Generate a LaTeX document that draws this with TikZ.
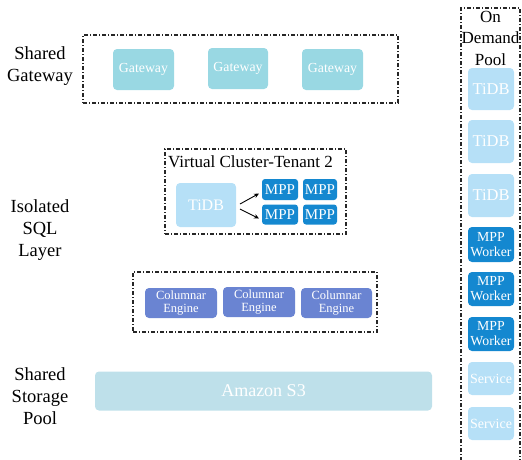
\documentclass[tikz,border=0pt]{standalone}
\usepackage{fontspec}
\setmainfont{Liberation Serif}
\usetikzlibrary{arrows.meta}
\definecolor{gwc}{HTML}{99D8E3}
\definecolor{tidbc}{HTML}{B6E0F7}
\definecolor{mppc}{HTML}{1488D0}
\definecolor{colc}{HTML}{6A84D2}
\definecolor{s3c}{HTML}{BEE0EA}
\tikzset{
  grp/.style={draw=black!85, line width=1.1pt, dash pattern=on 4pt off 2pt on 1pt off 2pt},
  blk/.style={rounded corners=4pt, text=white, inner sep=0pt, align=center},
  lbl/.style={align=center, font=\fontsize{18.5}{22}\selectfont},
  arr/.style={-{Stealth[length=5pt,width=4.5pt]}, line width=0.9pt},
}
\begin{document}
\begin{tikzpicture}[x=1pt,y=-1pt]
\useasboundingbox (0,0) rectangle (522,459);
% groups
\node[grp, minimum width=315pt, minimum height=68pt] (gwgrp) at (240.5,69) {};
\node[grp, minimum width=181pt, minimum height=85pt] (vcgrp) at (255.5,191.5) {};
\node[grp, minimum width=244pt, minimum height=60pt] (colgrp) at (255,302) {};
\begin{scope}
\clip (400,0) rectangle (522,459);
\draw[grp] (461,470) -- (461,8) -- (520,8) -- (520,470);
\end{scope}
% labels
\node[lbl] (l1) at (40,66.5) {Shared\\Gateway};
\node[lbl] (l2) at (40,230) {Isolated\\SQL\\Layer};
\node[lbl] (l3) at (40,396) {Shared\\Storage\\Pool};
\node[align=center, font=\fontsize{17}{21.5}\selectfont] (l4) at (490.5,38) {On\\Demand\\Pool};
% gateways
\node[blk, fill=gwc, minimum width=61pt, minimum height=41pt, font=\fontsize{13.8}{16}\selectfont] (g1) at (143.5,69.5) {Gateway};
\node[blk, fill=gwc, minimum width=60pt, minimum height=41pt, font=\fontsize{13.8}{16}\selectfont] (g2) at (238,68.5) {Gateway};
\node[blk, fill=gwc, minimum width=61pt, minimum height=41pt, font=\fontsize{13.8}{16}\selectfont] (g3) at (332.5,69.5) {Gateway};
% virtual cluster
\node[anchor=west, font=\fontsize{17}{19}\selectfont, inner sep=0pt] (vct) at (168,162) {Virtual Cluster-Tenant 2};
\node[blk, fill=tidbc, minimum width=60pt, minimum height=44pt, font=\fontsize{16}{18}\selectfont] (vtidb) at (206,205) {TiDB};
\node[blk, fill=mppc, minimum width=36pt, minimum height=21pt, font=\fontsize{15}{17}\selectfont, rounded corners=3pt] (m1) at (280,189.5) {MPP};
\node[blk, fill=mppc, minimum width=34pt, minimum height=21pt, font=\fontsize{15}{17}\selectfont, rounded corners=3pt] (m2) at (320,189.5) {MPP};
\node[blk, fill=mppc, minimum width=36pt, minimum height=20pt, font=\fontsize{15}{17}\selectfont, rounded corners=3pt] (m3) at (280,214.5) {MPP};
\node[blk, fill=mppc, minimum width=34pt, minimum height=20pt, font=\fontsize{15}{17}\selectfont, rounded corners=3pt] (m4) at (320,214.5) {MPP};
\coordinate (a1s) at (240,204);
\coordinate (a1e) at (259,193.5);
\coordinate (a2s) at (240,209);
\coordinate (a2e) at (259,218.5);
\draw[arr] (a1s) -- (a1e);
\draw[arr] (a2s) -- (a2e);
% columnar
\node[blk, fill=colc, minimum width=72pt, minimum height=30pt, font=\fontsize{12.5}{13}\selectfont] (c1) at (181,303) {Columnar\\Engine};
\node[blk, fill=colc, minimum width=72pt, minimum height=30pt, font=\fontsize{12.5}{13}\selectfont] (c2) at (259,302) {Columnar\\Engine};
\node[blk, fill=colc, minimum width=71pt, minimum height=30pt, font=\fontsize{12.5}{13}\selectfont] (c3) at (336.5,303) {Columnar\\Engine};
% S3
\node[blk, fill=s3c, minimum width=337pt, minimum height=39pt, font=\fontsize{18}{20}\selectfont] (s3) at (263.5,391) {Amazon S3};
% pool
\node[blk, fill=tidbc, minimum width=46pt, minimum height=42pt, font=\fontsize{16.5}{18}\selectfont] (p1) at (491,89) {TiDB};
\node[blk, fill=tidbc, minimum width=46pt, minimum height=43pt, font=\fontsize{16.5}{18}\selectfont] (p2) at (491,141.5) {TiDB};
\node[blk, fill=tidbc, minimum width=46pt, minimum height=43pt, font=\fontsize{16.5}{18}\selectfont] (p3) at (491,195.5) {TiDB};
\node[blk, fill=mppc, minimum width=46pt, minimum height=35pt, font=\fontsize{13.8}{15}\selectfont] (p4) at (491,244.5) {MPP\\Worker};
\node[blk, fill=mppc, minimum width=46pt, minimum height=34pt, font=\fontsize{13.8}{15}\selectfont] (p5) at (491,289) {MPP\\Worker};
\node[blk, fill=mppc, minimum width=46pt, minimum height=34pt, font=\fontsize{13.8}{15}\selectfont] (p6) at (491,334) {MPP\\Worker};
\node[blk, fill=tidbc, minimum width=46pt, minimum height=33pt, font=\fontsize{14}{16}\selectfont] (p7) at (491,378.5) {Service};
\node[blk, fill=tidbc, minimum width=46pt, minimum height=33pt, font=\fontsize{14}{16}\selectfont] (p8) at (491,423.5) {Service};
\end{tikzpicture}
\end{document}
